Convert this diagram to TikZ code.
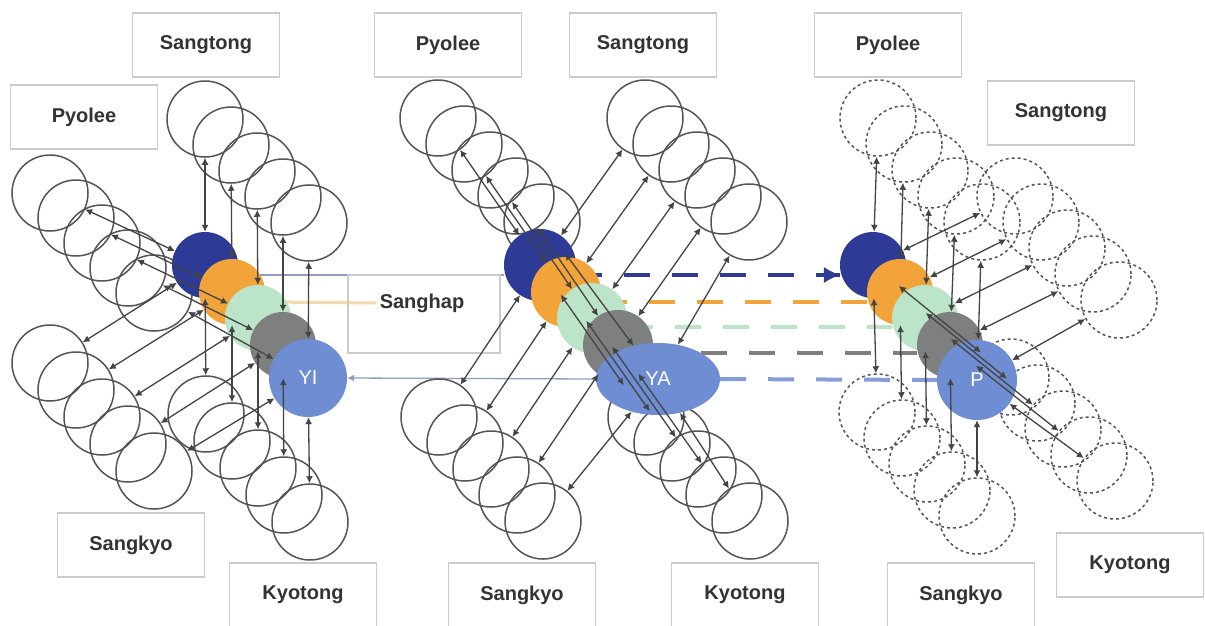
\documentclass[tikz,border=0pt]{standalone}
\usepackage{fontspec}
\setmainfont{Liberation Sans}
\usetikzlibrary{arrows.meta,shapes.geometric}
\definecolor{navyc}{HTML}{2D3A96}
\definecolor{orangec}{HTML}{F2A43A}
\definecolor{greenc}{HTML}{BCE4C8}
\definecolor{grayc}{HTML}{7E8080}
\definecolor{bluec}{HTML}{6F8DD2}
\definecolor{ringc}{HTML}{555555}
\definecolor{linkc}{HTML}{444444}
\definecolor{boxc}{HTML}{CCCCCC}
\definecolor{textc}{HTML}{333333}
\definecolor{sanghapc}{HTML}{8F9DBF}
\definecolor{faintorange}{HTML}{F6D9A8}
\pgfdeclarelayer{back}
\pgfdeclarelayer{bg}
\pgfsetlayers{back,bg,main}
\newcommand\mkchain[6]{%
  \foreach \k in {0,...,4}{\node[#6] (#1\k) at ({#2+\k*(#4)},{#3+\k*(#5)}) {};}}
\newcommand\mklinks[2]{%
  \foreach \k in {0,...,4}{\draw[link] (#1\k) -- (#2\k);}}
\begin{document}
\begin{tikzpicture}[x=1pt,y=-1pt,
  ring/.style={circle, draw=ringc, line width=1.5pt, minimum size=76pt, inner sep=0pt},
  dring/.style={ring, dash pattern=on 3pt off 3pt},
  link/.style={draw=linkc, line width=1.3pt, {Latex[length=7pt,width=7pt]}-{Latex[length=7pt,width=7pt]}},
  cnode/.style={circle, inner sep=0pt, minimum size=#1},
  lbl/.style={draw=boxc, line width=1.5pt, fill=white, minimum width=147pt, minimum height=64pt,
    font=\fontsize{20}{24}\selectfont\bfseries, text=textc},
  ntext/.style={text=white, font=\fontsize{20}{24}\selectfont},
  dline/.style={line width=4pt, dash pattern=on 26pt off 22pt}
]
\begin{pgfonlayer}{back}
\fill[white] (0,0) rectangle (1205,625);
\end{pgfonlayer}
\useasboundingbox (0,0) rectangle (1205,625);

% ---------- circle chains ----------
% left cluster
\mkchain{LPy}{50}{193}{26}{25}{ring}
\mkchain{LSt}{205}{119}{26}{26}{ring}
\mkchain{LSk}{50}{363}{26}{27}{ring}
\mkchain{LKy}{206}{414}{26}{27}{ring}
% middle cluster
\mkchain{MPy}{438}{118}{26}{26}{ring}
\mkchain{MSt}{645}{118}{26}{26}{ring}
\mkchain{MSk}{439}{417}{26}{26}{ring}
\mkchain{MKy}{646}{417}{26}{26}{ring}
% right cluster
\mkchain{RPy}{878}{118}{26}{26}{dring}
\mkchain{RSt}{1015}{196}{26}{26}{dring}
\mkchain{RSk}{877}{412}{25}{26}{dring}
\mkchain{RKy}{1011}{377}{26}{26}{dring}

% ---------- coloured nodes ----------
\node[cnode=66pt, fill=navyc]   (L0) at (205,265) {};
\node[cnode=66pt, fill=orangec] (L1) at (232,292) {};
\node[cnode=66pt, fill=greenc]  (L2) at (258,318) {};
\node[cnode=66pt, fill=grayc]   (L3) at (283,345) {};
\node[cnode=78pt, fill=bluec, ntext] (L4) at (308,378) {YI};

\node[cnode=72pt, fill=navyc]   (M0) at (540,265) {};
\node[cnode=70pt, fill=orangec] (M1) at (566,292) {};
\node[cnode=70pt, fill=greenc]  (M2) at (592,318) {};
\node[cnode=70pt, fill=grayc]   (M3) at (618,345) {};
\node[ellipse, inner sep=0pt, minimum width=124pt, minimum height=72pt, fill=bluec, ntext] (M4) at (658,379) {YA};

\node[cnode=66pt, fill=navyc]   (R0) at (873,265) {};
\node[cnode=66pt, fill=orangec] (R1) at (900,292) {};
\node[cnode=66pt, fill=greenc]  (R2) at (925,318) {};
\node[cnode=66pt, fill=grayc]   (R3) at (950,345) {};
\node[cnode=80pt, fill=bluec, ntext] (R4) at (977,380) {P};

% ---------- Sanghap box ----------
\node[draw=boxc, line width=1.5pt, minimum width=152pt, minimum height=78pt, inner sep=0pt] (shbox) at (424,314) {};
\node[font=\fontsize{20}{24}\selectfont\bfseries, text=textc] (sanghap) at (422,303) {Sanghap};

% ---------- horizontal connectors (under nodes) ----------
\begin{pgfonlayer}{bg}
\draw[sanghapc, line width=1.5pt] ([yshift=-10pt]L0.east) -- ([yshift=-10pt]M0.west);
\draw[faintorange, line width=3pt] ([yshift=-10pt]L1.east) -- (sanghap.west);
\draw[sanghapc, line width=1.3pt, -{Latex[length=7pt,width=7pt]}] (M4.west) -- (L4.east);
\draw[navyc, dline] ([yshift=-10pt]M0.east) -- ([yshift=-10pt]R0.west);
\draw[orangec, dline] ([yshift=-10pt]M1.east) -- ([yshift=-10pt]R1.west);
\draw[greenc, dline] ([yshift=-9pt]M2.east) -- ([yshift=-9pt]R2.west);
\draw[grayc, dline] ([yshift=-8pt]M3.east) -- ([yshift=-8pt]R3.west);
\draw[bluec!85, dline] (M4.east) -- (R4.west);
\end{pgfonlayer}
\draw[navyc, line width=1pt, -{Latex[length=16pt,width=16pt]}] ([xshift=-22pt,yshift=-10pt]R0.west) -- ([yshift=-10pt]R0.west);

% ---------- links ----------
\mklinks{LPy}{L}\mklinks{LSt}{L}\mklinks{LSk}{L}\mklinks{LKy}{L}
\mklinks{MPy}{M}\mklinks{MSt}{M}\mklinks{MSk}{M}\mklinks{MKy}{M}
\mklinks{RPy}{R}\mklinks{RSt}{R}\mklinks{RSk}{R}\mklinks{RKy}{R}

% ---------- labels ----------
\node[lbl] (t1)  at (206,45)  {Sangtong};
\node[lbl] (t2)  at (84,117)  {Pyolee};
\node[lbl] (t3)  at (448,45)  {Pyolee};
\node[lbl] (t4)  at (643,45)  {Sangtong};
\node[lbl] (t5)  at (888,45)  {Pyolee};
\node[lbl] (t6)  at (1061,113) {Sangtong};
\node[lbl] (t7)  at (131,545) {Sangkyo};
\node[lbl] (t8)  at (303,595) {Kyotong};
\node[lbl] (t9)  at (522,595) {Sangkyo};
\node[lbl] (t10) at (745,595) {Kyotong};
\node[lbl] (t11) at (961,595) {Sangkyo};
\node[lbl] (t12) at (1130,565) {Kyotong};
\end{tikzpicture}
\end{document}
